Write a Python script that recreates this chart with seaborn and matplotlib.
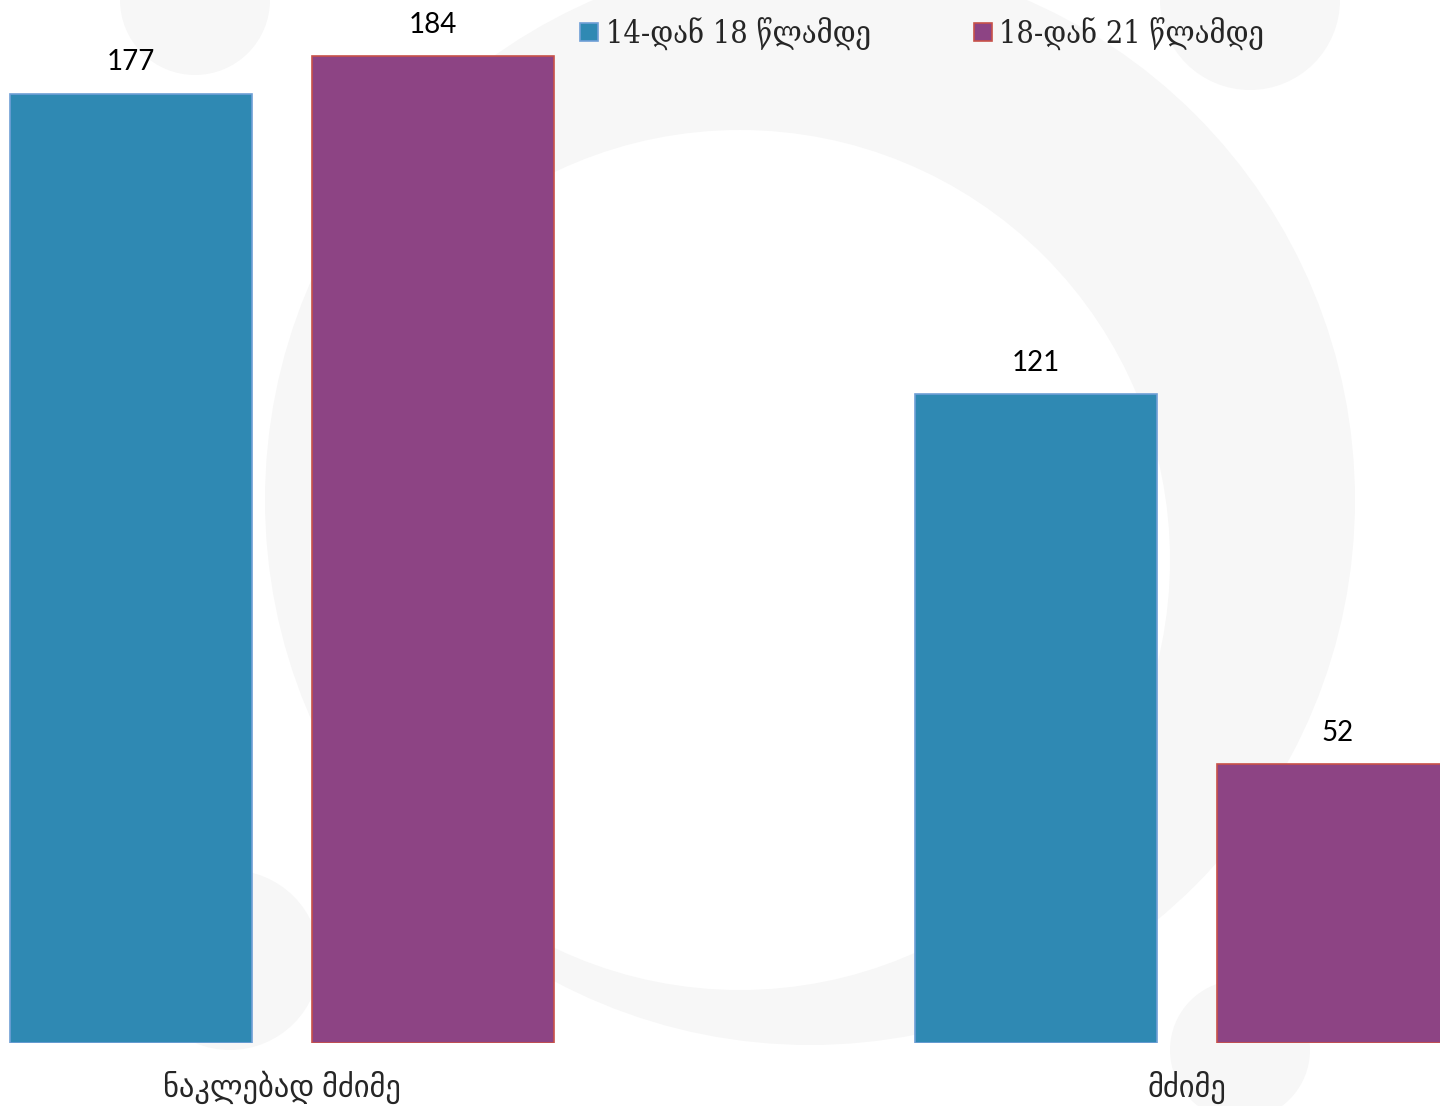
import pandas as pd
import matplotlib.pyplot as plt
import seaborn as sns
from matplotlib.patches import Circle
from matplotlib.transforms import IdentityTransform
from matplotlib.lines import Line2D

# data
categories = ["ნაკლებად მძიმე", "მძიმე"]
groups = ["14-დან 18 წლამდე", "18-დან 21 წლამდე"]
values_14_18 = [177, 121]
values_18_21 = [184, 52]

df = pd.DataFrame({
    "category": categories * 2,
    "group": [groups[0]] * 2 + [groups[1]] * 2,
    "value": values_14_18 + values_18_21,
})

colors = ["#2F89B3", "#8D4484"]
edges = ["#6F9FD6", "#C8524A"]

sns.set_theme(style="white")
plt.rcParams['font.family'] = ['Lato', 'DejaVu Sans']

W, H = 1440, 1106
fig = plt.figure(figsize=(W / 100, H / 100), dpi=100)
fig.patch.set_facecolor("white")

# faint watermark in the background
gray = "#F7F7F7"
def wm(x, y, r, color=gray, z=-3):
    c = Circle((x, H - y), r, transform=IdentityTransform(), facecolor=color,
               edgecolor="none", zorder=z)
    fig.add_artist(c)

wm(810, 500, 545)
wm(740, 560, 430, color="white", z=-2)
wm(195, 0, 75)
wm(1250, 0, 90)
wm(1240, 1050, 70)
wm(230, 960, 90)

ax = fig.add_axes([0, 1 - 1043 / H, 1, 1043 / H])
ax.patch.set_alpha(0)

sns.barplot(data=df, x="category", y="value", hue="group", palette=colors,
            width=0.667, gap=0.2, ax=ax, saturation=1, legend=False)

for cont, ec in zip(ax.containers, edges):
    for bar in cont:
        bar.set_edgecolor(ec)
        bar.set_linewidth(1.2)
    ax.bar_label(cont, padding=13, fontsize=20, color="black")

ax.set_xlim(-282 / 905, (1440 - 282) / 905)
ax.set_ylim(0, 1043 / ((1043 - 56) / 184))
ax.set_xlabel("")
ax.set_ylabel("")
ax.set_yticks([])
ax.tick_params(axis="x", length=0, pad=20, labelsize=22)
sns.despine(ax=ax, left=True, bottom=True)

handles = [Line2D([], [], marker="s", linestyle="none", markersize=13,
                  markerfacecolor=c, markeredgecolor=e, markeredgewidth=1.2)
           for c, e in zip(colors, edges)]
fig.legend(handles, groups, loc="upper left", bbox_to_anchor=(548 / W, 1 + 11 / H),
           ncol=2, frameon=False, handletextpad=0.1, columnspacing=3.2,
           handlelength=0.9, prop={"family": ["DejaVu Serif"], "size": 22,
                                   "stretch": "condensed"})

fig.savefig("out.png", dpi=100)
plt.close(fig)
